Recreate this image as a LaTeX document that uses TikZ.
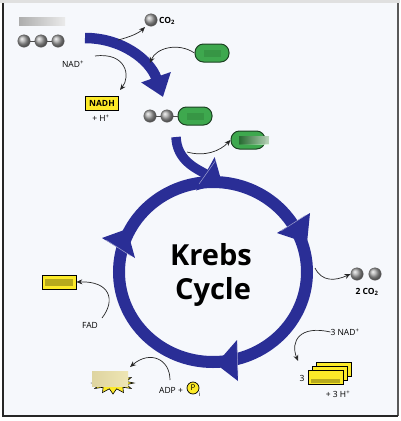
\documentclass[tikz,border=0pt]{standalone}
\usepackage{fontspec}
\setmainfont{Open Sans}
\usetikzlibrary{arrows.meta}
\definecolor{krebsblue}{RGB}{42,46,150}
\definecolor{coagreen}{RGB}{62,168,78}
\definecolor{coaedge}{RGB}{28,66,34}
\definecolor{nadhyellow}{RGB}{252,234,40}
\definecolor{paper}{RGB}{246,248,252}
\tikzset{
  ball/.style={circle, inner sep=0pt, minimum size=12.5pt, shading=ball, ball color=black!35, draw=black!60, line width=0.4pt},
  bond/.style={black!70, line width=0.8pt},
  pill/.style={rectangle, rounded corners=8.5pt, minimum width=34pt, minimum height=18pt, fill=coagreen, draw=coaedge, line width=1pt},
  ybox/.style={rectangle, inner sep=0pt, minimum width=33pt, minimum height=14pt, fill=nadhyellow, draw=black, line width=0.7pt},
  lbl/.style={inner sep=0pt, font=\fontsize{8.5}{10}\selectfont},
  blbl/.style={inner sep=0pt, font=\fontsize{8.5}{10}\selectfont\bfseries},
  krebs/.style={inner sep=0pt, font=\fontsize{29}{31}\selectfont\bfseries},
  bigarrow/.style={krebsblue, line width=10.5pt},
  flow/.style={black!85, line width=0.7pt, -{Stealth[length=6pt,width=5pt]}},
  seam/.style={krebsblue!45, line width=0.5pt}
}
\begin{document}
\begin{tikzpicture}[x=1pt,y=-1pt]
\useasboundingbox (0,0) rectangle (400,421);
% frame
\fill[white] (0,0) rectangle (400,421);
\fill[black!12] (0,0) rectangle (400,3);
\fill[paper] (3,3) rectangle (398,416);
\draw[black!65, line width=1.5pt] (398,3) -- (398,416);
\draw[black!85, line width=2pt] (3,3) -- (3,416) -- (398,416);

% pyruvate
\fill[left color=black!32, right color=black!8] (19,17) rectangle (65,25);
\node[ball] (pyr1) at (24,41) {};
\node[ball] (pyr2) at (41,41) {};
\node[ball] (pyr3) at (58,41) {};
\draw[bond] (pyr1) -- (pyr2);
\draw[bond] (pyr2) -- (pyr3);

% link reaction
\draw[bigarrow, -{Triangle[length=21pt,width=30pt]}] (85,38) .. controls (122,38) and (150,60) .. (163,97);
\node[ball] (co2top) at (151,20) {};
\node[blbl, anchor=west] (co2lbl) at (159,21) {CO\textsubscript{2}};
\node[pill] (coa1) at (212,53) {};
\fill[coagreen!70!black, opacity=0.35] (204,50) rectangle (221,57);
\node[lbl] (nad) at (73,64) {NAD\textsuperscript{+}};
\node[ybox, font=\fontsize{8.5}{10}\selectfont\bfseries] (nadh) at (102,103) {NADH};
\node[lbl] (hplus) at (101,118) {+ H\textsuperscript{+}};
\coordinate (co2out) at (118,40);
\coordinate (coain) at (150,63);
\coordinate (nadout) at (95,56);
\coordinate (nadhin) at (120,90);
\draw[flow] (co2out) .. controls (130,37) and (139,33) .. (145,27);
\draw[flow] (coa1.west) .. controls (178,42) and (156,48) .. (coain);
\draw[flow] (nadout) .. controls (126,52) and (131,76) .. (nadhin);

% acetyl CoA
\node[ball] (acet1) at (150,116) {};
\node[ball] (acet2) at (167,116) {};
\node[pill] (coa2) at (195,116) {};
\fill[coagreen!70!black, opacity=0.35] (187,113) rectangle (204,120);
\draw[bond] (acet1) -- (acet2);
\draw[bond] (acet2) -- (coa2);

% into the cycle
\draw[bigarrow, line width=9.5pt, -{Triangle[length=19pt,width=37pt]}] (176,137) .. controls (177,160) and (195,168) .. (222,183);
\node[pill] (coa3) at (248,140) {};
\fill[left color=coagreen!75!black, right color=green!12!white, opacity=0.8] (239,136) rectangle (269,144);
\coordinate (coaoff) at (187,152);
\draw[flow] (coaoff) .. controls (205,157) and (220,151) .. (coa3.west);

% the cycle
\draw[krebsblue, line width=12pt] (213,272) ellipse [x radius=94pt, y radius=90pt];
\fill[krebsblue] (277,233) -- (310,213) -- (307,243) -- cycle;
\draw[seam] (281,231) -- (306,215);
\fill[krebsblue] (237,340) -- (238,381) -- (216,364) -- cycle;
\draw[seam] (237,344) -- (238,376);
\fill[krebsblue] (102,238) -- (135,258) -- (127,229) -- cycle;
\draw[seam] (106,240) -- (131,256);
\draw[seam] (199,184) -- (216,160);
\node[krebs] (krebs) at (211,255) {Krebs};
\node[krebs] (cycle) at (213,292) {Cycle};

% outputs
\node[ball] (co2a) at (357,274) {};
\node[ball] (co2b) at (375,274) {};
\node[blbl] (co2two) at (367,292) {2 CO\textsubscript{2}};
\coordinate (ringco2) at (315,268);
\draw[flow] (ringco2) .. controls (322,282) and (335,281) .. (co2a.west);

\node[lbl] (nad3) at (345,332) {3 NAD\textsuperscript{+}};
\node[ybox, minimum width=35pt] (nadh3c) at (334,369) {};
\node[ybox, minimum width=35pt] (nadh3b) at (330,373) {};
\node[ybox, minimum width=35pt] (nadh3a) at (326,377) {};
\fill[nadhyellow!55!black, opacity=0.6] (311,379) rectangle (340,383);
\node[lbl] (three) at (302,378) {3};
\node[lbl] (hplus3) at (338,394) {+ 3 H\textsuperscript{+}};
\coordinate (nadh3in) at (298,361);
\draw[flow] (nad3.west) .. controls (300,325) and (290,341) .. (nadh3in);

\node[ybox, minimum width=34pt] (fadh) at (59,282) {};
\fill[nadhyellow!50!black, opacity=0.55] (45,279) rectangle (73,286);
\node[lbl] (fad) at (90,325) {FAD};
\coordinate (fadout) at (102,318);
\draw[flow] (fadout) .. controls (116,300) and (110,281) .. (fadh.east);

% ATP
\draw[fill=nadhyellow, draw=black, line width=0.6pt]
  plot[samples at={0,15,...,345}, variable=\a]
  ({113+(mod(\a,30)==0?21:14)*cos(\a)}, {383+(mod(\a,30)==0?11:6)*sin(\a)}) -- cycle;
\fill[left color={rgb,255:red,222;green,212;blue,160}, right color={rgb,255:red,238;green,230;blue,180}] (92,371) rectangle (128,386);
\node[lbl] (adp) at (171,390) {ADP +};
\node[circle, inner sep=0pt, minimum size=12pt, fill=nadhyellow, draw=black, line width=0.7pt, font=\fontsize{8}{9}\selectfont] (pi) at (193,388) {P};
\node[lbl, font=\fontsize{6}{7}\selectfont] (isub) at (200,394) {i};
\coordinate (adpout) at (170,380);
\coordinate (atpin) at (130,367);
\draw[flow] (adpout) .. controls (170,359) and (150,350) .. (atpin);
\end{tikzpicture}
\end{document}
